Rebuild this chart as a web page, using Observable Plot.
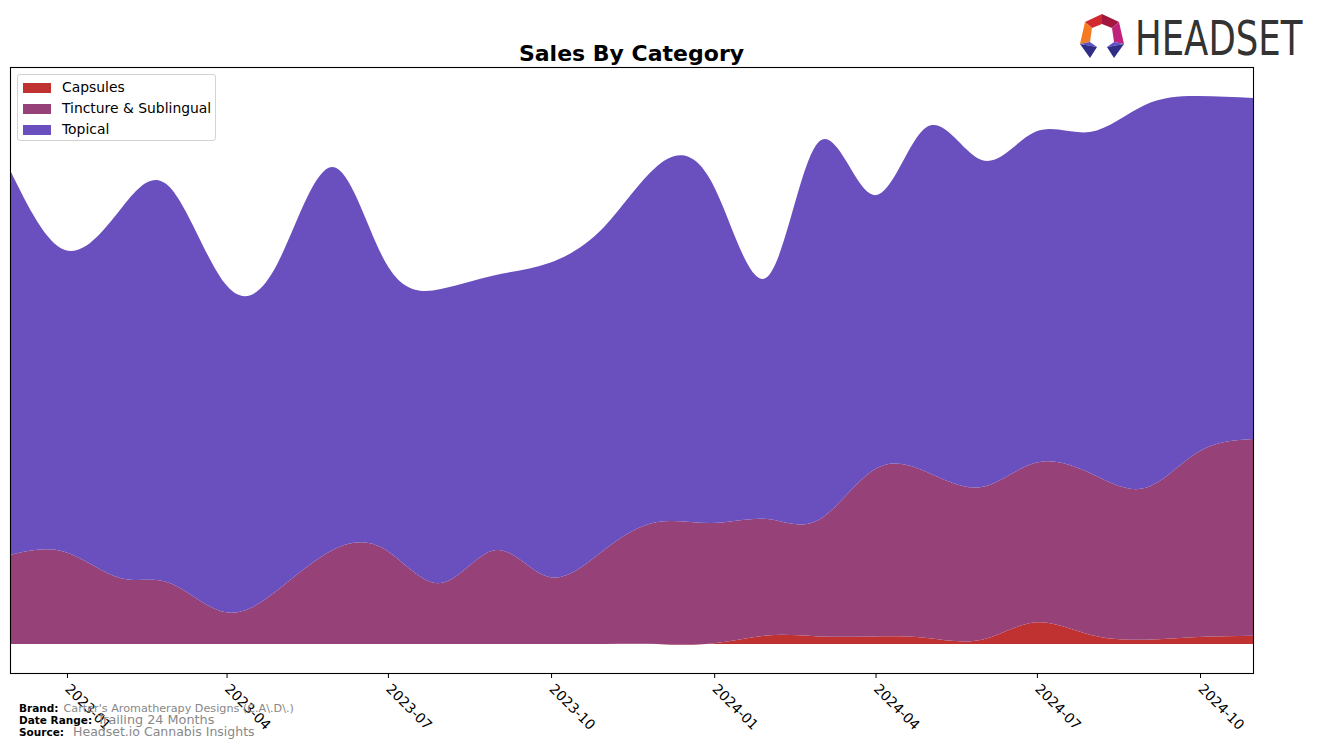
<!DOCTYPE html>
<html>
<head>
<meta charset="utf-8">
<script src="https://cdn.jsdelivr.net/npm/d3@7"></script>
<script src="https://cdn.jsdelivr.net/npm/@observablehq/plot@0.6"></script>
<style>
  html, body { margin: 0; padding: 0; background: #fff; }
  #wrap { position: relative; width: 1317px; height: 748px; overflow: hidden; font-family: "DejaVu Sans", sans-serif; }
  #chart { position: absolute; left: 0; top: 0; }
  #title { position: absolute; left: 10px; width: 1243px; top: 41px; text-align: center; font-weight: bold; font-size: 22px; line-height: 26px; color: #000; }
  #legend { position: absolute; left: 17px; top: 74px; width: 197px; height: 65px; border: 1px solid #d3d3d3; border-radius: 3px; background: rgba(255,255,255,0.85); }
  .li { position: absolute; left: 5px; height: 16px; font-size: 13.9px; line-height: 16px; color: #000; }
  .sw { position: absolute; left: 0; top: 3px; width: 28px; height: 10px; }
  .lt { position: absolute; left: 39px; top: -1px; white-space: nowrap; }
  .foot { position: absolute; left: 19px; white-space: nowrap; color: #000; line-height: 14px; }
  .foot b { font-size: 10.5px; }
  .foot span { color: #888; }
  #logo { position: absolute; left: 0; top: 0; }
</style>
</head>
<body>
<div id="wrap">
  <div id="chart"></div>
  <div id="title"></div>
  <div id="legend"></div>
  <div class="foot" id="f1" style="top:700px;"><b>Brand:</b> <span style="font-size:11.2px;">Carter's Aromatherapy Designs (C.A\.D\.)</span></div>
  <div class="foot" id="f2" style="top:712px;"><b>Date Range:</b> <span style="font-size:12.8px;">Trailing 24 Months</span></div>
  <div class="foot" id="f3" style="top:724px;"><b>Source:</b> <span style="font-size:12.5px;">&nbsp;Headset.io Cannabis Insights</span></div>
  <svg id="logo" width="1317" height="70">
    <polygon points="1085,22 1102,14 1102,24 1092,28" fill="#d02a2e"/>
    <polygon points="1102,14 1119,22 1112,28 1102,24" fill="#a3163f"/>
    <polygon points="1085,22 1092,28 1090,42 1080,44" fill="#f47b22"/>
    <polygon points="1119,22 1124,44 1114,42 1112,28" fill="#c0237c"/>
    <polygon points="1080,44 1090,42 1097,47" fill="#5b52c8"/>
    <polygon points="1080,44 1097,47 1090,58" fill="#2f2d86"/>
    <polygon points="1124,44 1114,42 1107,47" fill="#5b52c8"/>
    <polygon points="1124,44 1107,47 1114,58" fill="#2f2d86"/>
    <text transform="translate(1135,55) scale(1,1.36)" x="0" y="0" font-family="DejaVu Sans" font-size="35.5" fill="#333">HEADSET</text>
  </svg>
</div>
<script>
// ---- data ----
const titleText = "Sales By Category";
const categories = ["Capsules", "Tincture & Sublingual", "Topical"];
const colors = ["#c03232", "#964278", "#6a4fbe"];
const months = ["2022-12","2023-01","2023-02","2023-03","2023-04","2023-05","2023-06","2023-07","2023-08","2023-09","2023-10","2023-11",
                "2023-12","2024-01","2024-02","2024-03","2024-04","2024-05","2024-06","2024-07","2024-08","2024-09","2024-10","2024-11"];
const capsules = [0,0,0,0,0,0,0,0,0,0,0,0,0,0.5,8.6,7.6,7.6,6,4.3,21.5,9.3,4.3,7,8.3];
const tincture = [89,92,66,61,32,54,94,94,61,94,67,94,122,120.5,116.4,116.4,166.4,166,152.7,159.5,161.7,151.7,185,196.7];
const topical  = [385,302,368,396,329,327,383,287,294,275,314,323,356,340,242,378,275,345,327,331,341,383,356,341];
const tickLabels = ["2023-01","2023-04","2023-07","2023-10","2024-01","2024-04","2024-07","2024-10"];

const parse = d3.utcParse("%Y-%m");
const seriesValues = [capsules, tincture, topical];
const rows = [];
categories.forEach((c, i) => months.forEach((m, j) => rows.push({date: parse(m), category: c, value: seriesValues[i][j]})));

document.getElementById("title").textContent = titleText;

const lg = document.getElementById("legend");
categories.forEach((c, i) => {
  const d = document.createElement("div");
  d.className = "li";
  d.style.top = (5 + i * 21) + "px";
  d.innerHTML = `<div class="sw" style="background:${colors[i]}"></div><div class="lt"></div>`;
  d.querySelector(".lt").textContent = c;
  lg.appendChild(d);
});

const chart = Plot.plot({
  width: 1317,
  height: 748,
  marginTop: 67,
  marginBottom: 75,
  marginLeft: 10,
  marginRight: 64,
  style: {fontFamily: "DejaVu Sans", fontSize: "13.9px", color: "#000", background: "transparent"},
  x: {type: "utc", domain: [parse(months[0]), parse(months[months.length - 1])]},
  y: {axis: null, domain: [-29, 577]},
  color: {domain: categories, range: colors},
  marks: [
    Plot.areaY(rows, {x: "date", y: "value", fill: "category", z: "category", order: categories, curve: "natural"}),
    Plot.frame({stroke: "#000", strokeWidth: 1.1}),
    Plot.axisX({ticks: tickLabels.map(parse), tickFormat: d3.utcFormat("%Y-%m"), tickRotate: 45, tickSize: 5, tickPadding: 8, dx: 2, label: null, fontSize: 13.9})
  ]
});
document.getElementById("chart").appendChild(chart);
</script>
</body>
</html>
